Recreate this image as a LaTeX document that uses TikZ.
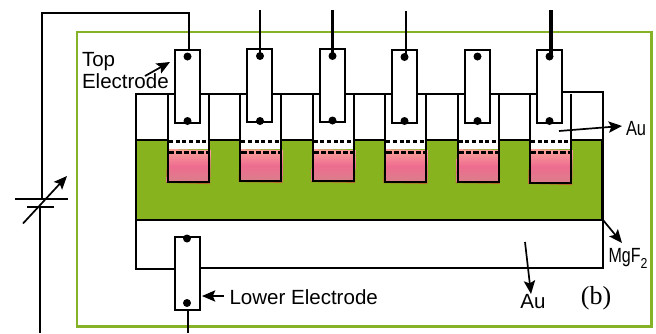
\documentclass[tikz,border=0pt]{standalone}
\usepackage{fontspec}
\setmainfont{Liberation Sans}
\newfontfamily\serifb{Liberation Serif}
\usetikzlibrary{arrows.meta}
\definecolor{frameg}{HTML}{86B227}
\definecolor{fillg}{HTML}{86B31E}
\definecolor{pinkA}{HTML}{FBA59A}
\definecolor{pinkB}{HTML}{EE6C90}
\definecolor{pinkC}{HTML}{D9808A}
\definecolor{pinkedge}{HTML}{B8692A}
\tikzset{
  x=0.75pt,y=-0.75pt,
  px/.style={line width=#1*0.75pt},
  wire/.style={px=2,black},
  well/.style={px=2,black},
  elbox/.style={draw=black,px=2,fill=white,minimum width=18.75pt,minimum height=54.75pt,inner sep=0pt,outer sep=0pt},
  pin/.style={circle,fill=black,minimum size=6pt,inner sep=0pt,outer sep=0pt},
  lead/.style={line width=#1*0.75pt,black},
  note/.style={px=1.7,-{Stealth[inset=2pt,length=10pt,width=8.5pt]}},
  lab/.style={inner sep=0pt,outer sep=0pt,anchor=west,font=\fontsize{15.4pt}{16pt}\selectfont},
}
\begin{document}
\begin{tikzpicture}
\useasboundingbox (0,0) rectangle (656,333);
% frame
\draw[frameg,px=2.2] (77,32) rectangle (651.5,326.5);
% green slab
\fill[fillg] (136,140) rectangle (602.5,220);
% wells: pink liquid, white upper part
\foreach \l/\b/\r in {1/182/-1.5,2/181/-1,3/181/-1,4/182/-1,5/182/-1,6/183/-1.5}{
  \pgfmathsetmacro{\xl}{168+(\l-1)*72.4}
  \pgfmathsetmacro{\xr}{\xl+41}
  \fill[pinkedge,rotate around={\r:(\xl+20,\b-15)}] (\xl-1.5,170) rectangle (\xr+1.5,\b+1.5);
  \shade[top color=pinkA,bottom color=pinkC,middle color=pinkB,rotate around={\r:(\xl+20,\b-15)}] (\xl-1,149.5) rectangle (\xr+1.5,\b+0.5);
  \fill[white] (\xl,94) rectangle (\xr,149);
  \draw[px=2.2,dash pattern=on 3pt off 2pt] (\xl+1,141.5) -- (\xr-1,141.5);
  \draw[px=2.2,dash pattern=on 4pt off 1.5pt] (\xl+1,152.5) -- (\xr-1,152.5);
  \draw[well] (\xl,94) -- (\xl,\b) -- (\xr,\b) -- (\xr,94);
}
% top gold layer
\draw[wire] (136,220) -- (136,94) -- (209,94);
\draw[wire] (241,94) -- (281,94) (313,94) -- (354,94) (386,94) -- (426,94) (458,94) -- (499,94) (530,94) -- (560,94);
\draw[wire] (209,94) -- (241,94) (281,94) -- (313,94) (354,94) -- (386,94) (426,94) -- (458,94) (499,94) -- (530,94);
\draw[wire] (562,92) -- (602.5,92) -- (602.5,140);
\draw[wire] (136,140) -- (168,140) (209,140) -- (241,140) (281,140) -- (313,140) (354,140) -- (386,140) (426,140) -- (458,140) (499,140) -- (530,140) (571,140) -- (602.5,140);
% slab lower edge and lower gold layer
\draw[px=2.4] (136,220) -- (602.5,220);
\draw[px=2.6] (602.5,140) -- (602.5,220);
\draw[wire] (602.5,220) -- (602.5,268) -- (198,268);
\draw[wire] (136,220) -- (136,268.5) -- (175,268.5);
% electrodes
\node[elbox] (e1) at (187.5,86.5) {};
\node[elbox] (e2) at (259.5,85.5) {};
\node[elbox] (e3) at (332.5,85.5) {};
\node[elbox] (e4) at (404.5,86.5) {};
\node[elbox] (e5) at (477.5,86.5) {};
\node[elbox] (e6) at (549.5,86.5) {};
\node[elbox] (e7) at (187.5,273.5) {};
\foreach \n/\x/\ya/\yb in {1/187.5/56.5/121,2/260/56/121,3/332.5/56/120.5,4/404.5/57/121,5/477.5/56.5/121,6/549.5/56.5/121}{
  \node[pin] (t\n) at (\x,\ya) {};
  \node[pin] (b\n) at (\x,\yb) {};
}
\node[pin] (t7) at (187,238.5) {};
\node[pin] (b7) at (187,303) {};
% leads
\coordinate (w2) at (260,10);
\coordinate (w3) at (332.5,10);
\coordinate (w4) at (406,11);
\coordinate (w6) at (551,10);
\draw[lead=2.6] (w2) -- (w2|-t2);
\draw[lead=2.6] (w3) -- (w3|-t3);
\draw[lead=2.6] (w4) -- (w4|-t4);
\draw[lead=3.6] (w6) -- (w6|-t6);
% battery and circuit
\coordinate (pa) at (15,199);
\coordinate (pb) at (68,199);
\coordinate (qa) at (27,207);
\coordinate (qb) at (54,207);
\coordinate (bt) at (42,199);
\coordinate (bb) at (40,207);
\coordinate (c1) at (42,13);
\coordinate (c2) at (189,13);
\coordinate (c3) at (189,50);
\coordinate (c4) at (40,333);
\coordinate (c5) at (188,310);
\coordinate (c6) at (188,333);
\draw[wire] (bt) -- (c1) -- (c2) -- (c3);
\draw[wire] (bb) -- (c4);
\draw[wire] (c5) -- (c6);
\draw[wire] (pa) -- (pb);
\draw[wire] (qa) -- (qb);
\coordinate (va) at (23,223.5);
\coordinate (vb) at (67,176);
\draw[note] (va) -- (vb);
% labels
\node[lab] (top) at (82,61.5) {Top};
\node[lab] (ele) at (82,81.5) {Electrode};
\node[lab] (low) at (229.5,297.5) {Lower Electrode};
\node[lab] (au1) at (626,129) {\scalebox{0.8}[1]{Au}};
\node[lab,anchor=center] (au2) at (533,302) {Au};
\node[lab] (mg) at (608.5,258) {\scalebox{0.78}[1]{MgF}\raisebox{-4.5pt}{\scalebox{0.6}[0.7]{2}}};
\node[inner sep=0pt,outer sep=0pt,font=\serifb\fontsize{19.5pt}{20pt}\selectfont] (bl) at (596,298) {(b)};
% label arrows
\coordinate (a1) at (145,76);
\draw[note] (a1) -- (170,62);
\coordinate (a2) at (559,131);
\coordinate (a2e) at (622,126);
\draw[note] (a2) -- (a2e);
\coordinate (a3) at (603,220);
\draw[note] (a3) -- (622,243);
\coordinate (a4) at (525,242);
\draw[note] (a4) -- (531,294);
\coordinate (a5) at (224,296);
\draw[note] (a5) -- (202,296);
\end{tikzpicture}
\end{document}
